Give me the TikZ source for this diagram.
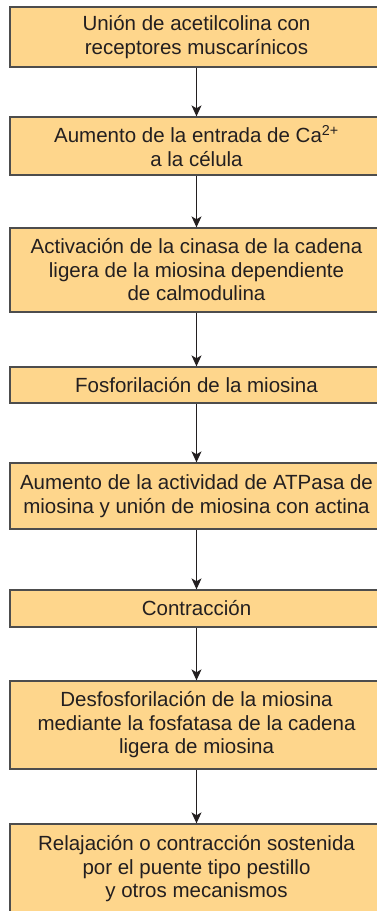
\documentclass[tikz,border=0pt]{standalone}
\usepackage{fontspec}
\setmainfont{Liberation Sans}
\usetikzlibrary{arrows.meta,positioning}
\definecolor{mcBox}{HTML}{FED68C}
\definecolor{mcEdge}{HTML}{4D4D4D}
\definecolor{mcInk}{HTML}{231F20}

\tikzset{
  stepbox/.style={draw=mcEdge,line width=1.3pt,fill=mcBox,text=mcInk,
    minimum width=373pt,inner sep=0pt,align=center,
    font=\fontsize{20.5}{23.5}\selectfont},
  flow/.style={mcInk,line width=1.1pt,-{Stealth[length=11pt,width=10pt,inset=3pt]}}
}

\begin{document}
\begin{tikzpicture}[x=1pt,y=-1pt]
  \useasboundingbox (0,0) rectangle (377,911);
  \node[stepbox,minimum height=60pt] (union) at (196.5,37)
    {Unión de acetilcolina con\\receptores muscarínicos};
  \node[stepbox,minimum height=58pt] (calcio) at (196.5,146)
    {Aumento de la entrada de Ca\textsuperscript{2+}\\a la célula};
  \node[stepbox,minimum height=84pt] (cinasa) at (196.5,270)
    {Activación de la cinasa de la cadena\\ligera de la miosina dependiente\\de calmodulina};
  \node[stepbox,minimum height=36pt] (fosfo) at (196.5,385)
    {Fosforilación de la miosina};
  \node[stepbox,minimum height=66pt] (atpasa) at (196.5,496)
    {Aumento de la actividad de ATPasa de\\miosina y unión de miosina con actina};
  \node[stepbox,minimum height=37pt] (contra) at (196.5,608.5)
    {Contracción};
  \node[stepbox,minimum height=88pt] (desfo) at (196.5,725)
    {Desfosforilación de la miosina\\mediante la fosfatasa de la cadena\\ligera de miosina};
  \node[stepbox,minimum height=90pt] (relaja) at (196.5,869)
    {Relajación o contracción sostenida\\por el puente tipo pestillo\\y otros mecanismos};
  % flechas entre pasos
  \draw[flow] (union) -- (calcio);
  \draw[flow] (calcio) -- (cinasa);
  \draw[flow] (cinasa) -- (fosfo);
  \draw[flow] (fosfo) -- (atpasa);
  \draw[flow] (atpasa) -- (contra);
  \draw[flow] (contra) -- (desfo);
  \draw[flow] (desfo) -- (relaja);
\end{tikzpicture}
\end{document}
